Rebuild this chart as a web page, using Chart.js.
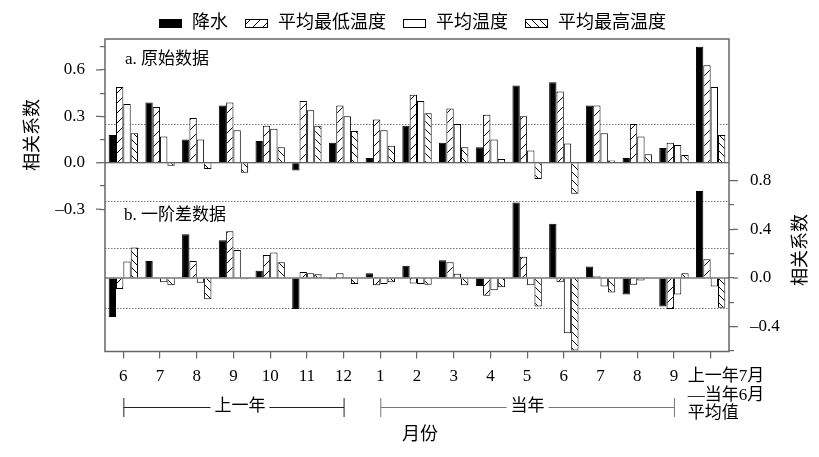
<!DOCTYPE html>
<html><head><meta charset="utf-8">
<script src="https://cdn.jsdelivr.net/npm/chart.js@4.4.1/dist/chart.umd.min.js"></script>
<style>html,body{margin:0;padding:0;background:#fff}canvas{display:block}</style>
</head><body>
<canvas id="c" width="819" height="457"></canvas>
<script>
// ---------- data ----------
const categories = ['6','7','8','9','10','11','12','1','2','3','4','5','6','7','8','9','上一年7月—当年6月平均值'];
const avgLabelLines = ['上一年7月','—当年6月','平均值'];
const seriesNames = ['降水','平均最低温度','平均温度','平均最高温度'];

// a. 原始数据 (left axis)
const rawPrecip = [0.18, 0.39, 0.15, 0.37, 0.14, -0.05, 0.13, 0.03, 0.24, 0.13, 0.10, 0.50, 0.52, 0.37, 0.03, 0.095, 0.75];
const rawTmin   = [0.49, 0.36, 0.29, 0.39, 0.24, 0.40, 0.37, 0.28, 0.44, 0.35, 0.31, 0.30, 0.46, 0.37, 0.25, 0.13, 0.63];
const rawTmean  = [0.38, 0.17, 0.15, 0.21, 0.22, 0.34, 0.30, 0.21, 0.40, 0.25, 0.15, 0.08, 0.125, 0.19, 0.17, 0.115, 0.49];
const rawTmax   = [0.19, -0.02, -0.04, -0.065, 0.10, 0.24, 0.205, 0.11, 0.32, 0.10, 0.025, -0.105, -0.20, 0.015, 0.055, 0.05, 0.18];

// b. 一阶差数据 (right axis)
const difPrecip = [-0.32, 0.14, 0.36, 0.31, 0.06, -0.255, -0.01, 0.04, 0.10, 0.145, -0.065, 0.62, 0.445, 0.095, -0.135, -0.235, 0.715];
const difTmin   = [-0.09, 0.0, 0.14, 0.385, 0.19, 0.05, 0.04, -0.06, -0.045, 0.13, -0.145, 0.175, -0.035, 0.015, -0.055, -0.255, 0.155];
const difTmean  = [0.135, -0.035, -0.04, 0.23, 0.21, 0.04, 0.0, -0.05, -0.05, 0.035, -0.10, -0.06, -0.455, -0.07, -0.02, -0.135, -0.07];
const difTmax   = [0.25, -0.06, -0.175, -0.01, 0.13, 0.03, -0.05, -0.035, -0.055, -0.06, -0.075, -0.235, -0.595, -0.12, 0.0, 0.04, -0.245];

const leftTickValues  = [-0.3, -0.15, 0, 0.15, 0.3, 0.45, 0.6, 0.75];
const leftTickLabels  = ['–0.3', '', '0.0', '', '0.3', '', '0.6', ''];
const rightTickValues = [-0.6, -0.4, -0.2, 0, 0.2, 0.4, 0.6, 0.8];
const rightTickLabels = ['', '–0.4', '', '0.0', '', '0.4', '', '0.8'];
const refLevels = [0.25, -0.25];
const panelLabels = ['a. 原始数据', 'b. 一阶差数据'];
const yearGroups = [{label: '上一年', from: 0, to: 6}, {label: '当年', from: 7, to: 15}];
const axisTitleY = '相关系数';
const axisTitleX = '月份';

// ---------- styling ----------
const FONT = '"Liberation Serif", "Noto Sans CJK SC", serif';
const canvas = document.getElementById('c');
const ctx0 = canvas.getContext('2d');

function hatch(dir, size) {
  const c = document.createElement('canvas');
  c.width = size; c.height = size;
  const g = c.getContext('2d');
  g.fillStyle = '#fff'; g.fillRect(0, 0, size, size);
  g.strokeStyle = '#000'; g.lineWidth = 1;
  g.beginPath();
  for (const k of [-1, 0, 1]) {
    if (dir === 'fwd') { g.moveTo(k * size, size); g.lineTo(k * size + size, 0); }
    else { g.moveTo(k * size, 0); g.lineTo(k * size + size, size); }
  }
  g.stroke();
  return ctx0.createPattern(c, 'repeat');
}
const fills = ['#000', hatch('fwd', 10), '#fff', hatch('back', 8)];
const stacks = ['p', 'tmin', 'tmean', 'tmax'];
const topSeries = [rawPrecip, rawTmin, rawTmean, rawTmax];
const botSeries = [difPrecip, difTmin, difTmean, difTmax];

const datasets = [];
topSeries.forEach((d, i) => datasets.push({
  label: seriesNames[i], data: d, yAxisID: 'y', stack: stacks[i],
  backgroundColor: fills[i], borderColor: '#000', borderWidth: 1,
  categoryPercentage: 0.8, barPercentage: 1.0
}));
botSeries.forEach((d, i) => datasets.push({
  label: seriesNames[i] + ' (一阶差)', data: d, yAxisID: 'y2', stack: stacks[i],
  backgroundColor: fills[i], borderColor: '#000', borderWidth: 1,
  categoryPercentage: 0.8, barPercentage: 1.0
}));

const deco = {
  id: 'deco',
  beforeDatasetsDraw(chart) {
    const {ctx, chartArea: a, scales} = chart;
    ctx.save();
    ctx.strokeStyle = '#777'; ctx.lineWidth = 1; ctx.setLineDash([1.5, 1.5]);
    for (const ax of ['y', 'y2']) for (const v of refLevels) {
      const py = Math.round(scales[ax].getPixelForValue(v)) + 0.5;
      ctx.beginPath(); ctx.moveTo(a.left, py); ctx.lineTo(a.right, py); ctx.stroke();
    }
    ctx.restore();
  },
  afterDatasetsDraw(chart) {
    const {ctx, chartArea: a, scales} = chart;
    ctx.save();
    // zero lines
    ctx.strokeStyle = '#333'; ctx.lineWidth = 1.2;
    for (const ax of ['y', 'y2']) {
      const py = scales[ax].getPixelForValue(0);
      ctx.beginPath(); ctx.moveTo(a.left, py); ctx.lineTo(a.right, py); ctx.stroke();
    }
    // box
    ctx.strokeStyle = '#666'; ctx.lineWidth = 1.5;
    ctx.strokeRect(a.left, a.top, a.right - a.left, a.bottom - a.top);
    // major tick extensions
    ctx.lineWidth = 1.2;
    leftTickValues.forEach((v, i) => {
      if (!leftTickLabels[i]) return;
      const py = scales.y.getPixelForValue(v);
      ctx.beginPath(); ctx.moveTo(a.left - 9, py); ctx.lineTo(a.left - 4, py); ctx.stroke();
    });
    rightTickValues.forEach((v, i) => {
      if (!rightTickLabels[i]) return;
      const py = scales.y2.getPixelForValue(v);
      ctx.beginPath(); ctx.moveTo(a.right + 4, py); ctx.lineTo(a.right + 9, py); ctx.stroke();
    });
    ctx.restore();
  },
  afterDraw(chart) {
    const {ctx, chartArea: a, scales} = chart;
    const x = scales.x;
    ctx.save();
    ctx.fillStyle = '#000';
    // legend
    ctx.font = '18px ' + FONT;
    ctx.textBaseline = 'middle';
    ctx.textAlign = 'left';
    let lx = 159;
    for (let i = 0; i < 4; i++) {
      ctx.fillStyle = fills[i];
      ctx.fillRect(lx, 19, 22, 8);
      ctx.strokeStyle = '#000'; ctx.lineWidth = 1;
      ctx.strokeRect(lx + 0.5, 19.5, 22, 8);
      ctx.fillStyle = '#000';
      ctx.fillText(seriesNames[i], lx + 33, 23.5);
      lx += 33 + ctx.measureText(seriesNames[i]).width + 17;
    }
    // panel labels
    ctx.font = '17px ' + FONT;
    ctx.fillText(panelLabels[0], a.left + 20, 60);
    ctx.fillText(panelLabels[1], a.left + 19, 216);
    // y titles
    ctx.font = '18px ' + FONT;
    ctx.textAlign = 'center';
    ctx.save(); ctx.translate(33, 135); ctx.rotate(-Math.PI / 2); ctx.fillText(axisTitleY, 0, 0); ctx.restore();
    ctx.save(); ctx.translate(801, 250); ctx.rotate(-Math.PI / 2); ctx.fillText(axisTitleY, 0, 0); ctx.restore();
    // x title
    ctx.fillText(axisTitleX, 420, 435);
    // avg label
    ctx.font = '17px ' + FONT;
    ctx.textAlign = 'left';
    const ax = x.getPixelForValue(16) - 23;
    avgLabelLines.forEach((t, i) => ctx.fillText(t, ax, [377, 396, 414][i]));
    // year brackets
    ctx.textAlign = 'center';
    yearGroups.forEach((g, gi) => {
      const x0 = x.getPixelForValue(g.from) + 0.5, x1 = x.getPixelForValue(g.to) + 0.5;
      const cx = gi === 0 ? (x0 + x1) / 2 + 6 : (x0 + x1) / 2;
      const tw = ctx.measureText(g.label).width;
      ctx.strokeStyle = gi === 0 ? '#222' : '#777';
      ctx.lineWidth = 1;
      ctx.beginPath();
      ctx.moveTo(x0, 407.5); ctx.lineTo(cx - tw / 2 - 4, 407.5);
      ctx.moveTo(cx + tw / 2 + 4, 407.5); ctx.lineTo(x1, 407.5);
      ctx.moveTo(x0, 398); ctx.lineTo(x0, 417);
      ctx.moveTo(x1, 398); ctx.lineTo(x1, 417);
      ctx.stroke();
      ctx.fillStyle = '#000';
      ctx.fillText(g.label, cx, 407);
    });
    ctx.restore();
  }
};

new Chart(canvas, {
  type: 'bar',
  data: {labels: categories, datasets},
  plugins: [deco],
  options: {
    responsive: false, animation: false, devicePixelRatio: 1,
    layout: {padding: {top: 39, left: 0, right: 0, bottom: 0}},
    plugins: {legend: {display: false}, tooltip: {enabled: false}},
    scales: {
      x: {
        type: 'category', offset: true,
        grid: {display: true, drawOnChartArea: false, offset: false, tickLength: 7, color: '#666', tickColor: '#666', lineWidth: 1.2},
        border: {display: false},
        ticks: {
          autoSkip: false, maxRotation: 0, minRotation: 0, padding: 8, color: '#000',
          font: {family: FONT, size: 17},
          callback: (v, i) => i === categories.length - 1 ? '' : categories[i]
        },
        afterFit: s => { s.height = 105.5; }
      },
      y: {
        position: 'left', min: -1.22, max: 0.80,
        afterBuildTicks: s => { s.ticks = leftTickValues.map(v => ({value: v})); },
        grid: {display: true, drawOnChartArea: false, tickLength: 5, color: '#666', tickColor: '#666', lineWidth: 1.2},
        border: {display: false},
        ticks: {padding: 15, color: '#000', font: {family: FONT, size: 17},
          callback: (v, i) => leftTickLabels[i]},
        afterFit: s => { s.width = 105; }
      },
      y2: {
        position: 'right', min: -0.604, max: 1.964,
        afterBuildTicks: s => { s.ticks = rightTickValues.map(v => ({value: v})); },
        grid: {display: true, drawOnChartArea: false, tickLength: 5, color: '#666', tickColor: '#666', lineWidth: 1.2},
        border: {display: false},
        ticks: {padding: 16, color: '#000', font: {family: FONT, size: 17},
          callback: (v, i) => rightTickLabels[i]},
        afterFit: s => { s.width = 90; }
      }
    }
  }
});
</script>
</body></html>
